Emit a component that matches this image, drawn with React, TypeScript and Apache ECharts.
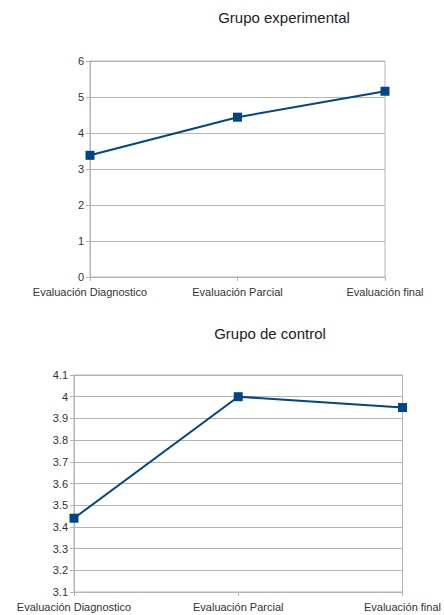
import React, { useEffect, useRef } from "react";
import * as echarts from "echarts";

const categories = ["Evaluación Diagnostico", "Evaluación Parcial", "Evaluación final"];
const experimentalValues = [3.38, 4.44, 5.16];
const controlValues = [3.44, 4.0, 3.95];
const titles = ["Grupo experimental", "Grupo de control"];

const FONT = "'Liberation Sans', Arial, sans-serif";
const LINE = "#004586";
const GRIDC = "#b3b3b3";
const TEXT = "#333333";

export default function App() {
  const ref = useRef<HTMLDivElement>(null);
  useEffect(() => {
    if (!ref.current) return;
    const chart = echarts.init(ref.current, null, { renderer: "svg" });
    const xAxisBase = (gridIndex: number) => ({
      type: "category",
      gridIndex,
      data: categories,
      boundaryGap: false,
      axisLine: { lineStyle: { color: GRIDC } },
      axisTick: { show: true, length: 4, lineStyle: { color: GRIDC } },
      axisLabel: { color: TEXT, fontSize: 11, fontFamily: FONT, margin: 9, interval: 0 },
      splitLine: { show: false },
    });
    const yAxisBase = (gridIndex: number, min: number, max: number, interval: number) => ({
      type: "value",
      gridIndex,
      min,
      max,
      interval,
      axisLine: { show: true, lineStyle: { color: GRIDC } },
      axisTick: { show: true, length: 4, lineStyle: { color: GRIDC } },
      axisLabel: { color: TEXT, fontSize: 11, fontFamily: FONT, margin: 6 },
      splitLine: { show: true, lineStyle: { color: GRIDC, width: 1 } },
    });
    const seriesBase = (idx: number, data: number[]) => ({
      type: "line",
      xAxisIndex: idx,
      yAxisIndex: idx,
      data,
      symbol: "rect",
      symbolSize: 9,
      lineStyle: { color: LINE, width: 2 },
      itemStyle: { color: LINE },
    });
    const titleText = (text: string, x: number, y: number) => ({
      type: "text",
      x,
      y,
      style: {
        text,
        fill: "#222",
        font: `15px ${FONT}`,
        textAlign: "center",
        textVerticalAlign: "middle",
      },
    });
    chart.setOption({
      animation: false,
      backgroundColor: "#ffffff",
      graphic: [titleText(titles[0], 284, 17), titleText(titles[1], 270, 333)],
      grid: [
        { left: 90, right: 59, top: 61, bottom: 338, show: true, borderColor: GRIDC, borderWidth: 1 },
        { left: 74, right: 41, top: 375, bottom: 23, show: true, borderColor: GRIDC, borderWidth: 1 },
      ],
      xAxis: [xAxisBase(0), xAxisBase(1)],
      yAxis: [yAxisBase(0, 0, 6, 1), yAxisBase(1, 3.1, 4.1, 0.1)],
      series: [seriesBase(0, experimentalValues), seriesBase(1, controlValues)],
    });
    return () => chart.dispose();
  }, []);
  return (
    <div
      ref={ref}
      style={{ position: "fixed", left: 0, top: 0, width: 444, height: 615, background: "#fff" }}
    />
  );
}
